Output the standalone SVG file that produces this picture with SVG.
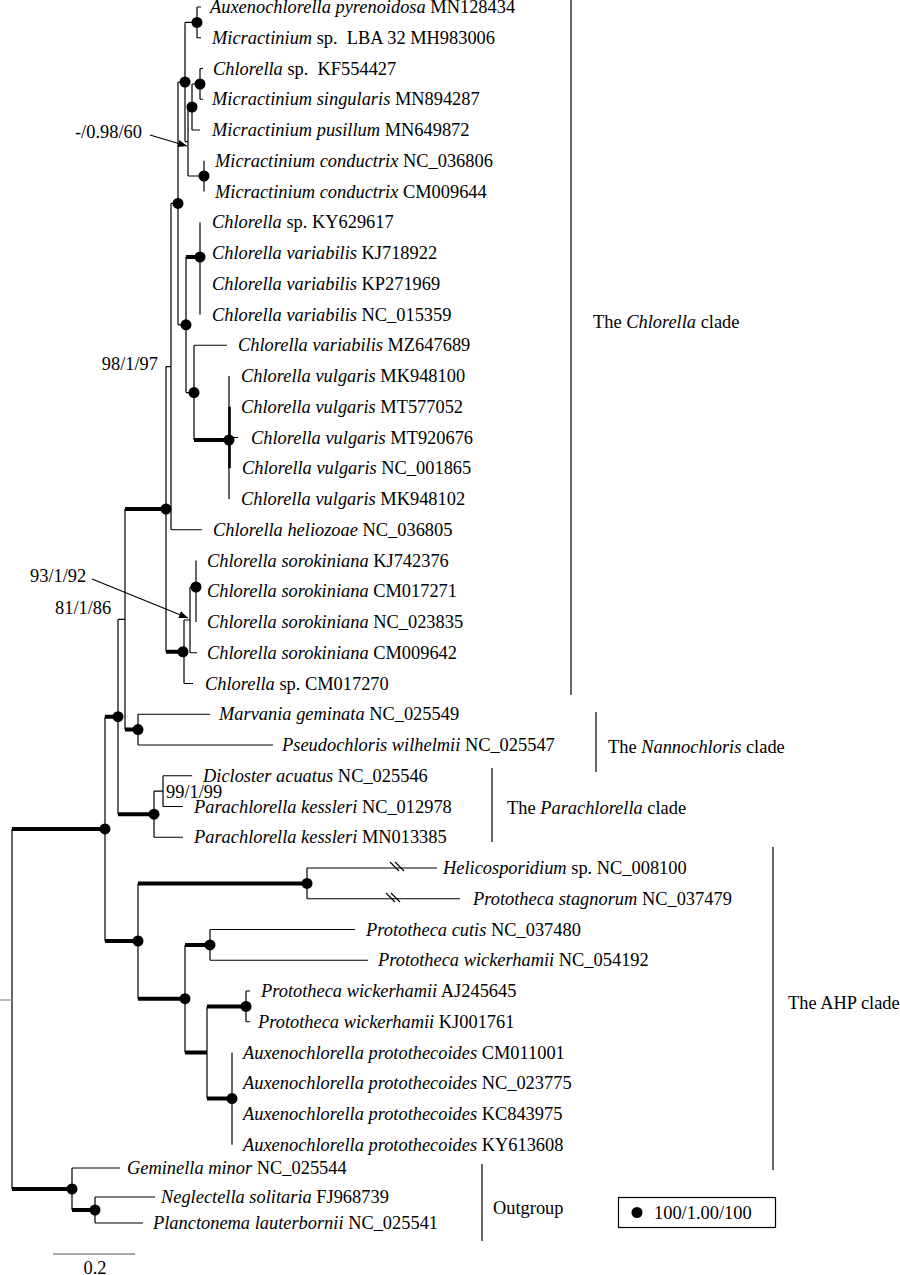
<svg xmlns="http://www.w3.org/2000/svg" width="900" height="1275" viewBox="0 0 900 1275">
<style>
text{font-family:"Liberation Serif","Times New Roman",serif;font-size:18.4px;fill:#000}
.i{font-style:italic}
.t{stroke:#000;stroke-width:1.2;fill:none}
.k{stroke:#000;stroke-width:4;fill:none}
.d{fill:#000}
</style>
<defs>
<marker id="ah" viewBox="0 0 10 10" refX="10" refY="5" markerWidth="9" markerHeight="9" markerUnits="userSpaceOnUse" orient="auto"><path d="M0,1 L10,5 L0,9 z" fill="#000"/></marker>
</defs>
<rect width="900" height="1275" fill="#fff"/>
<g id="connectors">
<!-- Chlorella clade top -->
<path class="t" d="M197,7 V37.75 M197,7 H201 M197,37.75 H201"/>
<path class="t" d="M200,68.5 V99.25 M200,68.5 H203 M200,99.25 H203"/>
<path class="t" d="M192,84 V130 M192,84 H200 M192,130 H200"/>
<path class="t" d="M204,160.75 V191.5"/>
<path class="t" d="M188,107 V176 M188,107 H192 M188,176 H204"/>
<path class="t" d="M185,22.4 V141.6 M185,22.4 H197 M185,141.6 H188"/>
<path class="t" d="M200,222.25 V314.5"/>
<path class="t" d="M229,376 V499 M229,437.5 H238"/>
<path class="t" style="stroke-width:2.6" d="M229.5,406.75 V468.25"/>
<path class="t" d="M194,345.25 V440 M194,345.25 H227"/>
<path class="k" d="M194,440 H229"/>
<path class="t" d="M186,257 V392.6 M186,392.6 H194"/>
<path class="k" d="M186,257 H200"/>
<path class="t" d="M178,82 V324.8 M178,82 H185 M178,324.8 H186"/>
<path class="t" d="M171,203.4 V529.75 M171,203.4 H178 M171,529.75 H202"/>
<path class="t" d="M196,560.5 V622"/>
<path class="t" d="M190,587 V652.75 M190,587 H196 M190,652.75 H197"/>
<path class="t" d="M184,620 V683.5 M184,620 H190 M184,683.5 H193"/>
<path class="t" d="M166,366.6 V651.75 M166,366.6 H171"/>
<path class="k" d="M166,651.75 H184"/>
<!-- Nannochloris -->
<path class="t" d="M138,714.25 V745 M138,714.25 H210 M138,745 H273"/>
<path class="t" d="M125,509 V729.6"/>
<path class="k" d="M125,509 H166 M125,729.6 H138"/>
<!-- Parachlorella -->
<path class="t" d="M163,775.75 V806.5 M163,775.75 H192 M163,806.5 H183"/>
<path class="t" d="M154,791.1 V837.25 M154,791.1 H163 M154,837.25 H183"/>
<path class="t" d="M118,619.3 V814.2 M118,619.3 H125"/>
<path class="k" d="M118,814.2 H154"/>
<!-- AHP -->
<path class="t" d="M307,868 V898.75 M307,868 H437 M307,898.75 H460"/>
<path class="t" d="M390,862 L399,871 M395,862 L404,871 M386,893 L395,902 M391,893 L400,902"/>
<path class="t" d="M210,929.5 V960.25 M210,929.5 H355 M210,960.25 H368"/>
<path class="t" d="M246,991 V1021.75 M246,991 H250 M246,1021.75 H250"/>
<path class="t" d="M232,1052.5 V1144.75"/>
<path class="t" d="M207,1006.4 V1098.6"/>
<path class="k" d="M207,1006.4 H246 M207,1098.6 H232"/>
<path class="t" d="M185,944.9 V1052.5"/>
<path class="k" d="M185,944.9 H210 M185,1052.5 H207"/>
<path class="t" d="M138,883.4 V998.7"/>
<path class="k" d="M138,883.4 H307 M138,998.7 H185"/>
<path class="t" d="M105,716.7 V941"/>
<path class="k" d="M105,716.7 H118 M105,941 H138"/>
<!-- Outgroup -->
<path class="t" d="M95,1197 V1223 M95,1197 H155 M95,1223 H143"/>
<path class="t" d="M72,1168 V1210 M72,1168 H120"/>
<path class="k" d="M72,1210 H95"/>
<!-- root -->
<path class="t" d="M12,828.9 V1189"/>
<path class="t" style="stroke:#888" d="M0,1000 H12"/>
<path class="k" d="M12,828.9 H105 M12,1189 H72"/>
<!-- annotation arrows -->
<path class="t" marker-end="url(#ah)" d="M150,135 L187,146"/>
<path class="t" marker-end="url(#ah)" d="M92,579 L188,618"/>
</g>
<g id="support-dots">
<circle class="d" cx="197" cy="22.4" r="5.5"/>
<circle class="d" cx="200" cy="84" r="5.5"/>
<circle class="d" cx="192" cy="107" r="5.5"/>
<circle class="d" cx="204" cy="176" r="5.5"/>
<circle class="d" cx="185" cy="82" r="5.5"/>
<circle class="d" cx="178" cy="203.4" r="5.5"/>
<circle class="d" cx="200" cy="257" r="5.5"/>
<circle class="d" cx="186" cy="324.8" r="5.5"/>
<circle class="d" cx="194" cy="392.6" r="5.5"/>
<circle class="d" cx="229" cy="440" r="5.5"/>
<circle class="d" cx="166" cy="509" r="5.5"/>
<circle class="d" cx="196" cy="587" r="5.5"/>
<circle class="d" cx="183" cy="651.75" r="5.5"/>
<circle class="d" cx="138" cy="729.6" r="5.5"/>
<circle class="d" cx="154" cy="814.2" r="5.5"/>
<circle class="d" cx="118" cy="716.7" r="5.5"/>
<circle class="d" cx="105" cy="828.9" r="5.5"/>
<circle class="d" cx="307" cy="883.4" r="5.5"/>
<circle class="d" cx="210" cy="944.9" r="5.5"/>
<circle class="d" cx="246" cy="1006.4" r="5.5"/>
<circle class="d" cx="232" cy="1098.6" r="5.5"/>
<circle class="d" cx="185" cy="998.7" r="5.5"/>
<circle class="d" cx="138" cy="941" r="5.5"/>
<circle class="d" cx="95" cy="1210" r="5.5"/>
<circle class="d" cx="72" cy="1189" r="5.5"/>
</g>
<g id="support-labels">
<text x="75" y="138">-/0.98/60</text>
<text x="158" y="370" text-anchor="end">98/1/97</text>
<text x="30" y="582">93/1/92</text>
<text x="55" y="614">81/1/86</text>
<text x="166" y="798">99/1/99</text>
</g>
<g id="leaves">
<text x="210" y="13"><tspan class="i">Auxenochlorella pyrenoidosa</tspan> MN128434</text>
<text x="212" y="43.75" xml:space="preserve"><tspan class="i">Micractinium</tspan> sp.  LBA 32 MH983006</text>
<text x="213" y="74.5" xml:space="preserve"><tspan class="i">Chlorella</tspan> sp.  KF554427</text>
<text x="212" y="105.25"><tspan class="i">Micractinium singularis</tspan> MN894287</text>
<text x="212" y="136"><tspan class="i">Micractinium pusillum</tspan> MN649872</text>
<text x="215" y="166.75"><tspan class="i">Micractinium conductrix</tspan> NC_036806</text>
<text x="215" y="197.5"><tspan class="i">Micractinium conductrix</tspan> CM009644</text>
<text x="212" y="228.25"><tspan class="i">Chlorella</tspan> sp. KY629617</text>
<text x="212" y="259"><tspan class="i">Chlorella variabilis</tspan> KJ718922</text>
<text x="212" y="289.75"><tspan class="i">Chlorella variabilis</tspan> KP271969</text>
<text x="212" y="320.5"><tspan class="i">Chlorella variabilis</tspan> NC_015359</text>
<text x="238" y="351.25"><tspan class="i">Chlorella variabilis</tspan> MZ647689</text>
<text x="241" y="382"><tspan class="i">Chlorella vulgaris</tspan> MK948100</text>
<text x="241" y="412.75"><tspan class="i">Chlorella vulgaris</tspan> MT577052</text>
<text x="251" y="443.5"><tspan class="i">Chlorella vulgaris</tspan> MT920676</text>
<text x="242" y="474.25"><tspan class="i">Chlorella vulgaris</tspan> NC_001865</text>
<text x="241" y="505"><tspan class="i">Chlorella vulgaris</tspan> MK948102</text>
<text x="213" y="535.75"><tspan class="i">Chlorella heliozoae</tspan> NC_036805</text>
<text x="207" y="566.5"><tspan class="i">Chlorella sorokiniana</tspan> KJ742376</text>
<text x="207" y="597.25"><tspan class="i">Chlorella sorokiniana</tspan> CM017271</text>
<text x="207" y="628"><tspan class="i">Chlorella sorokiniana</tspan> NC_023835</text>
<text x="207" y="658.75"><tspan class="i">Chlorella sorokiniana</tspan> CM009642</text>
<text x="205" y="689.5"><tspan class="i">Chlorella</tspan> sp. CM017270</text>
<text x="219" y="720.25"><tspan class="i">Marvania geminata</tspan> NC_025549</text>
<text x="282" y="751"><tspan class="i">Pseudochloris wilhelmii</tspan> NC_025547</text>
<text x="203" y="781.75"><tspan class="i">Dicloster acuatus</tspan> NC_025546</text>
<text x="194" y="812.5"><tspan class="i">Parachlorella kessleri</tspan> NC_012978</text>
<text x="194" y="843.25"><tspan class="i">Parachlorella kessleri</tspan> MN013385</text>
<text x="443" y="874"><tspan class="i">Helicosporidium</tspan> sp. NC_008100</text>
<text x="473" y="904.75"><tspan class="i">Prototheca stagnorum</tspan> NC_037479</text>
<text x="366" y="935.5"><tspan class="i">Prototheca cutis</tspan> NC_037480</text>
<text x="378" y="966.25"><tspan class="i">Prototheca wickerhamii</tspan> NC_054192</text>
<text x="261" y="997"><tspan class="i">Prototheca wickerhamii</tspan> AJ245645</text>
<text x="258" y="1027.75"><tspan class="i">Prototheca wickerhamii</tspan> KJ001761</text>
<text x="243" y="1058.5"><tspan class="i">Auxenochlorella protothecoides</tspan> CM011001</text>
<text x="243" y="1089.25"><tspan class="i">Auxenochlorella protothecoides</tspan> NC_023775</text>
<text x="243" y="1120"><tspan class="i">Auxenochlorella protothecoides</tspan> KC843975</text>
<text x="243" y="1150.75"><tspan class="i">Auxenochlorella protothecoides</tspan> KY613608</text>
<text x="127" y="1174"><tspan class="i">Geminella minor</tspan> NC_025544</text>
<text x="161" y="1203"><tspan class="i">Neglectella solitaria</tspan> FJ968739</text>
<text x="153" y="1229"><tspan class="i">Planctonema lauterbornii</tspan> NC_025541</text>
</g>
<g id="clade-chlorella">
<path class="t" d="M571,0 V695"/>
<text x="593" y="328">The <tspan class="i">Chlorella</tspan> clade</text>
</g>
<g id="clade-nannochloris">
<path class="t" d="M596,712 V772"/>
<text x="608" y="753">The <tspan class="i">Nannochloris</tspan> clade</text>
</g>
<g id="clade-parachlorella">
<path class="t" d="M492,768 V842"/>
<text x="507" y="814">The <tspan class="i">Parachlorella</tspan> clade</text>
</g>
<g id="clade-ahp">
<path class="t" d="M773,847 V1170"/>
<text x="788" y="1009">The AHP clade</text>
</g>
<g id="clade-outgroup">
<path class="t" d="M482,1164 V1241"/>
<text x="493" y="1214">Outgroup</text>
</g>
<g id="legend">
<rect x="618.5" y="1197.5" width="157" height="30" fill="none" stroke="#000" stroke-width="1.2"/>
<circle class="d" cx="637" cy="1212.5" r="5.5"/>
<text x="654" y="1218.5">100/1.00/100</text>
</g>
<g id="scale-bar">
<path class="t" style="stroke:#555" d="M53,1254 H135"/>
<text x="95" y="1274" text-anchor="middle">0.2</text>
</g>
</svg>
